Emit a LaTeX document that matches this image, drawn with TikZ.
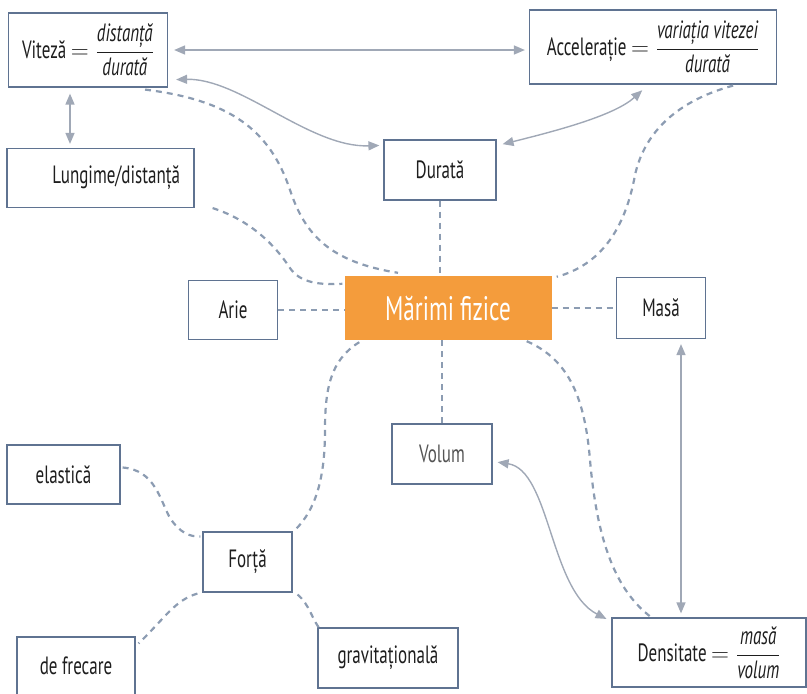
\documentclass[tikz,border=0pt]{standalone}
\usepackage{amsmath}
\usepackage{fontspec}
\setmainfont[FakeStretch=0.68]{PT Sans}
\usetikzlibrary{arrows.meta,calc}
\definecolor{boxline}{RGB}{95,115,145}
\definecolor{solidc}{RGB}{160,168,182}
\definecolor{dashc}{RGB}{140,156,178}
\definecolor{orangef}{RGB}{244,156,60}
\definecolor{txt}{RGB}{30,30,30}
\tikzset{
  box/.style={draw=boxline, line width=1.2pt, fill=white, text=txt, inner sep=0pt,
    font=\fontsize{25}{28}\selectfont, align=center},
  sol/.style={draw=solidc, line width=1.4pt, {Triangle[length=11pt,width=9pt]}-{Triangle[length=11pt,width=9pt]}, shorten <=1pt, shorten >=1pt},
  dsh/.style={draw=dashc, line width=2.2pt, dash pattern=on 6pt off 5pt}
}
\newcommand{\fr}[2]{$=\dfrac{\textit{#1}}{\textit{#2}}$}
\begin{document}
\begin{tikzpicture}[x=1pt,y=-1pt]
\useasboundingbox (0,0) rectangle (807,694);
% nodes
\node[box, minimum width=159pt, minimum height=74pt] (viteza) at (88,50) {Viteză \fr{distanță}{durată}};
\node[box, minimum width=247pt, minimum height=74pt] (accel) at (653,47) {Accelerație \fr{variația vitezei}{durată}};
\node[box, minimum height=59pt, text width=159pt, align=right, inner xsep=14pt] (lung) at (100.5,178) {Lungime/distanță};
\node[box, minimum width=112pt, minimum height=60pt] (durata) at (440,170) {Durată};
\node[box, minimum width=89pt, minimum height=59pt] (arie) at (233,310) {Arie};
\node[fill=orangef, text=white, minimum width=207pt, minimum height=64pt, inner sep=0pt,
  font=\fontsize{34}{36}\selectfont] (marimi) at (448,308) {Mărimi fizice};
\node[box, minimum width=89pt, minimum height=61pt] (masa) at (661,308) {Masă};
\node[box, minimum width=100pt, minimum height=60pt, text={rgb,255:red,85;green,85;blue,85}] (volum) at (442,454) {Volum};
\node[box, minimum width=113pt, minimum height=59pt] (elastica) at (63.5,474.5) {elastică};
\node[box, minimum width=89pt, minimum height=60pt] (forta) at (247.5,562) {Forță};
\node[box, minimum width=118pt, minimum height=58pt] (frecare) at (76,666) {de frecare};
\node[box, minimum width=140pt, minimum height=60pt] (grav) at (388,658) {gravitațională};
\node[box, minimum width=194pt, minimum height=69pt] (dens) at (709,652.5) {Densitate \fr{masă}{volum}};
% solid arrows
\draw[sol] ([shift={(5,0)}]viteza.east) -- ([shift={(-3,0)}]viteza.east -| accel.west);
\draw[sol] ([shift={(-18,5)}]viteza.south) -- ([shift={(-18,-3)}]viteza.south |- lung.north);
\draw[sol] ([shift={(7,-8)}]viteza.south east) .. controls (240,78) and (310,148) .. ([shift={(-3,6)}]durata.north west);
\draw[sol] ([shift={(-10,5)}]accel.south) .. controls (615,115) and (560,130) .. ([shift={(5,5)}]durata.north east);
\draw[sol] ([shift={(20,4)}]masa.south) -- ([shift={(20,-3)}]masa.south |- dens.north);
\draw[sol] ([shift={(4,8)}]volum.east) .. controls (550,470) and (550,590) .. ([shift={(-4,2)}]dens.north west);
% dashed connectors
\draw[dsh] ([shift={(57,2)}]viteza.south) .. controls (230,100) and (270,130) .. (290,190)
  .. controls (305,235) and (330,262) .. ([shift={(-50,-3)}]marimi.north);
\draw[dsh] ([shift={(18,0)}]lung.south east) .. controls (250,220) and (275,245) .. (290,268)
  .. controls (300,283) and (320,285) .. ([shift={(-2,8)}]marimi.north west);
\draw[dsh] (durata.south) -- (durata.south |- marimi.north);
\draw[dsh] ([shift={(-44,1)}]accel.south east) .. controls (680,100) and (645,130) .. (635,175)
  .. controls (625,230) and (600,265) .. ([shift={(5,1)}]marimi.north east);
\draw[dsh] (arie.east) -- (arie.east -| marimi.west);
\draw[dsh] (marimi.east) -- (marimi.east -| masa.west);
\draw[dsh] (volum.north |- marimi.south) -- (volum.north);
\draw[dsh] ([shift={(-25,1)}]marimi.south east) .. controls (570,360) and (585,400) .. (590,460)
  .. controls (597,540) and (615,590) .. ([shift={(40,0)}]dens.north west);
\draw[dsh] ([shift={(15,2)}]marimi.south west) .. controls (330,360) and (325,390) .. (325,430)
  .. controls (325,480) and (315,510) .. ([shift={(3,-2)}]forta.north east);
\draw[dsh] ([shift={(2,-7)}]elastica.east) .. controls (155,470) and (160,500) .. (170,518)
  .. controls (180,533) and (190,537) .. ([shift={(-2,5)}]forta.north west);
\draw[dsh] ([shift={(-5,1)}]forta.south west) .. controls (175,600) and (165,618) .. ([shift={(3,7)}]frecare.north east);
\draw[dsh] ([shift={(5,2)}]forta.south east) .. controls (310,605) and (312,620) .. ([shift={(3,2)}]grav.north west);
\end{tikzpicture}
\end{document}
